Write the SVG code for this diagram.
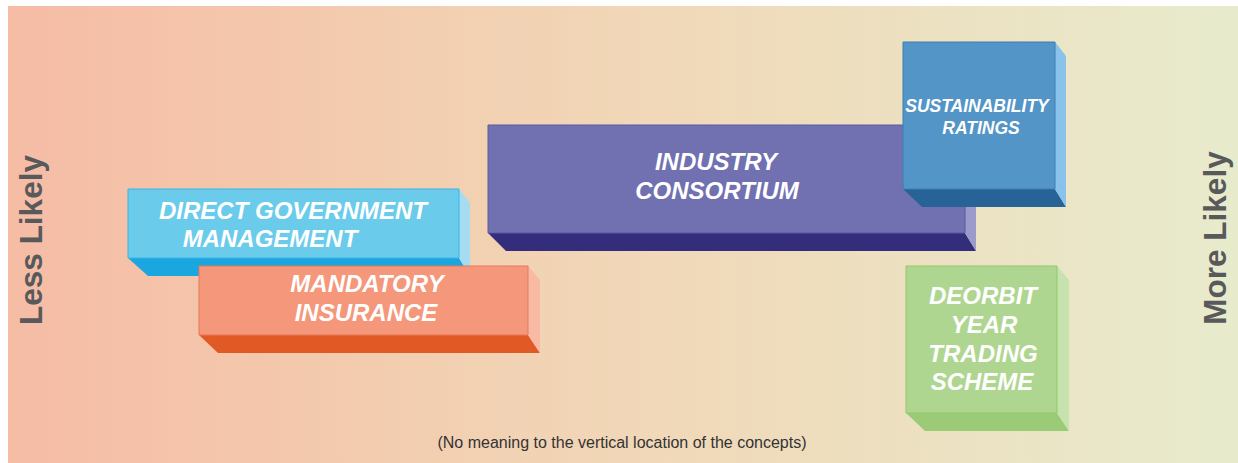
<svg xmlns="http://www.w3.org/2000/svg" width="1238" height="463" viewBox="0 0 1238 463">
  <defs>
    <linearGradient id="bg" x1="0" y1="0" x2="1" y2="0">
      <stop offset="0" stop-color="#F6BCA5"/>
      <stop offset="0.5" stop-color="#F1D7B7"/>
      <stop offset="1" stop-color="#E7EBCC"/>
    </linearGradient>
    <style>
      .lbl { font-family: "Liberation Sans", Arial, sans-serif; font-weight: bold; font-style: italic; fill: #FFFFFF; text-anchor: middle; }
      .big { font-size: 24px; }
      .small { font-size: 17.5px; }
      .axis { font-family: "Liberation Sans", Arial, sans-serif; font-weight: bold; font-size: 31.5px; fill: #58595B; text-anchor: middle; }
      .note { font-family: "Liberation Sans", Arial, sans-serif; font-size: 16px; fill: #333333; text-anchor: middle; }
      .edge { stroke-width: 1; stroke-linejoin: round; }
    </style>
  </defs>

  <!-- backdrop -->
  <rect x="8" y="6" width="1230" height="457" fill="url(#bg)"/>

  <!-- axis captions -->
  <text class="axis" transform="translate(42 240) rotate(-90)">Less Likely</text>
  <text class="axis" transform="translate(1226 238) rotate(-90)">More Likely</text>

  <!-- Direct Government Management -->
  <g id="direct-government">
    <polygon points="128,258 459,258 470,276 148,276" fill="#1AA6DF"/>
    <polygon points="459,189 470,203 470,276 459,258" fill="#A6DCF2"/>
    <rect x="128" y="189" width="331" height="69" fill="#6BCBEB" stroke="#3DB4E3" class="edge"/>
    <text class="lbl big" x="293" y="219">DIRECT GOVERNMENT</text>
    <text class="lbl big" x="270" y="247">MANAGEMENT</text>
  </g>

  <!-- Mandatory Insurance -->
  <g id="mandatory-insurance">
    <polygon points="199,335 528,335 540,353 218,353" fill="#E15A26"/>
    <polygon points="528,266 540,280 540,353 528,335" fill="#F8B9A5"/>
    <rect x="199" y="266" width="329" height="69" fill="#F4977A" stroke="#E77A56" class="edge"/>
    <text class="lbl big" x="367" y="292">MANDATORY</text>
    <text class="lbl big" x="366" y="321">INSURANCE</text>
  </g>

  <!-- Industry Consortium -->
  <g id="industry-consortium">
    <polygon points="488,233 965,233 976,251 506,251" fill="#332D7C"/>
    <polygon points="965,125 976,139 976,251 965,233" fill="#9B9ACB"/>
    <rect x="488" y="125" width="477" height="108" fill="#7171B2" stroke="#5A5AA0" class="edge"/>
    <text class="lbl big" x="716" y="170">INDUSTRY</text>
    <text class="lbl big" x="717" y="199">CONSORTIUM</text>
  </g>

  <!-- Sustainability Ratings -->
  <g id="sustainability-ratings">
    <polygon points="903,189 1055,189 1066,207 922,207" fill="#286398"/>
    <polygon points="1055,42 1066,56 1066,207 1055,189" fill="#89C3EB"/>
    <rect x="903" y="42" width="152" height="147" fill="#5395C6" stroke="#3F7FB3" class="edge"/>
    <text class="lbl small" x="977" y="112">SUSTAINABILITY</text>
    <text class="lbl small" x="981" y="134">RATINGS</text>
  </g>

  <!-- Deorbit Year Trading Scheme -->
  <g id="deorbit-trading">
    <polygon points="906,413 1057,413 1069,431 925,431" fill="#9BCB76"/>
    <polygon points="1057,266 1069,280 1069,431 1057,413" fill="#C6E3AF"/>
    <rect x="906" y="266" width="151" height="147" fill="#AFD690" stroke="#92C86B" class="edge"/>
    <text class="lbl big" x="983" y="304">DEORBIT</text>
    <text class="lbl big" x="984" y="333">YEAR</text>
    <text class="lbl big" x="983" y="362">TRADING</text>
    <text class="lbl big" x="982" y="390">SCHEME</text>
  </g>

  <g id="connectors"/>

  <!-- footnote -->
  <text class="note" x="622" y="448">(No meaning to the vertical location of the concepts)</text>
</svg>
